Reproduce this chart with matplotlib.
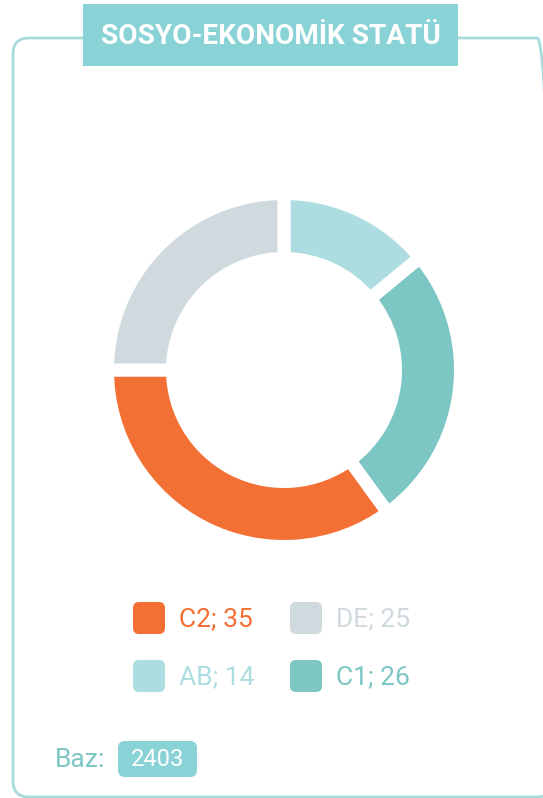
import numpy as np
import matplotlib.pyplot as plt
from matplotlib.patches import FancyBboxPatch

# data
categories = ['AB', 'C1', 'C2', 'DE']
values = [14, 26, 35, 25]
colors = ['#addde1', '#7cc6c4', '#f37034', '#d0d9de']
legend_order = ['C2', 'DE', 'AB', 'C1']
title = 'SOSYO-EKONOMİK STATÜ'
base_n = 2403

W, H = 543, 798
fig = plt.figure(figsize=(W / 100, H / 100), dpi=100)
ax = fig.add_axes([0, 0, 1, 1])

def Y(y):
    # image pixel row -> axes y (y up)
    return H - y

# donut
gap_px = 13
outer = 170 + gap_px / 2
width = 52
ax.pie(values, colors=colors, startangle=90, counterclock=False,
       center=(284, Y(370)), radius=outer,
       wedgeprops=dict(width=width + gap_px, edgecolor='white',
                       linewidth=gap_px * 72 / 100))

ax.set_xlim(0, W)
ax.set_ylim(0, H)
ax.set_aspect('auto')
ax.axis('off')

frame_col = '#a8dcdc'
teal = '#89d2d6'

# outer rounded frame (right side runs off the image)
frame = FancyBboxPatch((13, Y(797)), 540, 797 - 38,
                       boxstyle='round,pad=0,rounding_size=16',
                       fc='none', ec=frame_col, lw=2, zorder=1)
ax.add_patch(frame)

# title box
ax.add_patch(plt.Rectangle((83, Y(66)), 375, 62, fc=teal, ec='none',
                           zorder=3))
ax.text(271, Y(37), title, ha='center', va='center', color='white',
        fontsize=20.2, fontweight='bold', family='Roboto', zorder=4)

# legend
lookup = dict(zip(categories, zip(values, colors)))
pos = [(133, 602), (290, 602), (133, 660), (290, 660)]
for cat, (px, py) in zip(legend_order, pos):
    v, c = lookup[cat]
    ax.add_patch(FancyBboxPatch((px, Y(py + 32)), 32, 32,
                                boxstyle='round,pad=0,rounding_size=6',
                                fc=c, ec='none'))
    ax.text(px + 46, Y(py + 17), f'{cat}; {v}', ha='left', va='center',
            color=c, fontsize=19, family='Roboto')

# base
ax.text(55, Y(760), 'Baz:', ha='left', va='center', color='#7cc6c4',
        fontsize=19, family='Roboto')
ax.add_patch(FancyBboxPatch((118, Y(777)), 79, 36,
                            boxstyle='round,pad=0,rounding_size=7',
                            fc=teal, ec='none'))
ax.text(157.5, Y(760), str(base_n), ha='center', va='center', color='white',
        fontsize=17, family='Roboto')

fig.savefig('out.png', dpi=100)
